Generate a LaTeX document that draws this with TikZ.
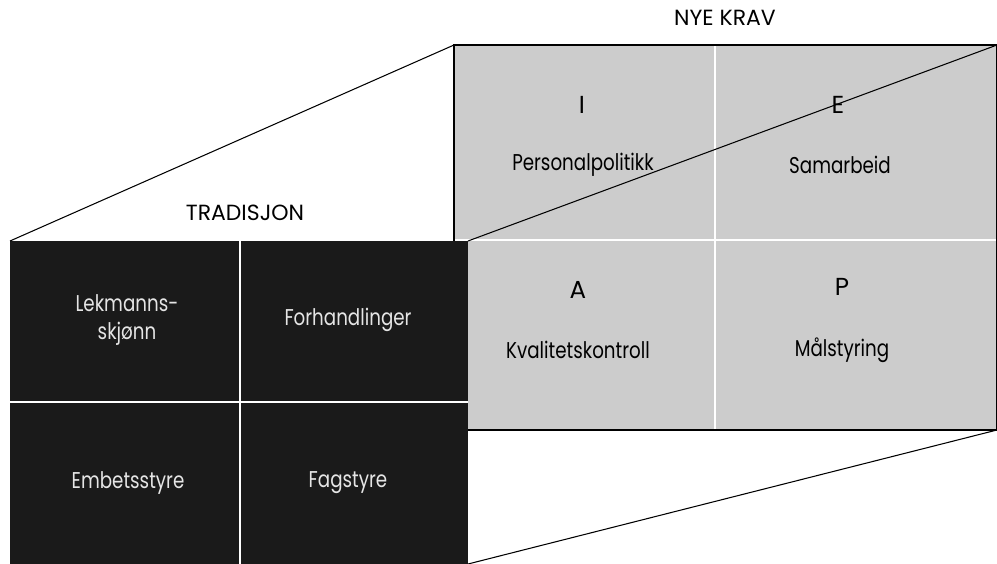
\documentclass[tikz,border=0pt]{standalone}
\usepackage{fontspec}
\setmainfont{Poppins}
\newfontfamily\narrowfont{Poppins}[FakeStretch=0.8]
\definecolor{front}{HTML}{1A1A1A}
\definecolor{back}{HTML}{CCCCCC}
\tikzset{
  cell/.style={font=\narrowfont\fontsize{13}{16}\selectfont, align=center},
  darkcell/.style={cell, text=black!10},
  letter/.style={font=\fontsize{14}{16}\selectfont},
  heading/.style={font=\fontsize{12.5}{15}\selectfont},
  divider/.style={white, line width=1.2pt},
  edge/.style={black, line width=0.6pt}
}
\begin{document}
\begin{tikzpicture}[x=0.02cm, y=-0.02cm]
    \useasboundingbox (0,0) rectangle (997,564);
    % corners of the two faces
    \coordinate (btl) at (454,45);
    \coordinate (btr) at (997,45);
    \coordinate (bbr) at (997,430);
    \coordinate (ftl) at (10,241);
    \coordinate (ftr) at (468,241);
    \coordinate (fbr) at (468,564);
    % back face (nye krav)
    \fill[back] (btl) rectangle (bbr);
    \draw[divider] (715,45) -- (715,430);
    \draw[divider] (454,240) -- (997,240);
    \draw[edge] (btl |- ftl) -- (btl) -- (btr) -- (bbr) -- (fbr |- bbr);
    % front face (tradisjon)
    \fill[front] (ftl) rectangle (fbr);
    \draw[divider] (240,241) -- (240,564);
    \draw[divider] (10,402) -- (468,402);
    % edges between the faces
    \draw[edge] (ftl) -- (btl);
    \draw[edge] (ftr) -- (btr);
    \draw[edge] (fbr) -- (bbr);
    % labels
    \node[heading] (nye) at (725,18) {NYE KRAV};
    \node[heading] (trad) at (245,213) {TRADISJON};
    \node[letter] (i) at (582,105) {I};
    \node[letter] (e) at (838,105) {E};
    \node[letter] (a) at (578,290) {A};
    \node[letter] (p) at (842,287) {P};
    \node[cell] (pers) at (583,165) {Personalpolitikk};
    \node[cell] (sam) at (840,165) {Samarbeid};
    \node[cell] (kval) at (578,350) {Kvalitetskontroll};
    \node[cell] (mal) at (842,350) {Målstyring};
    \node[darkcell] (lek) at (127,320) {Lekmanns-\\skjønn};
    \node[darkcell] (forh) at (348,320) {Forhandlinger};
    \node[darkcell] (emb) at (128,483) {Embetsstyre};
    \node[darkcell] (fag) at (348,483) {Fagstyre};
\end{tikzpicture}
\end{document}
